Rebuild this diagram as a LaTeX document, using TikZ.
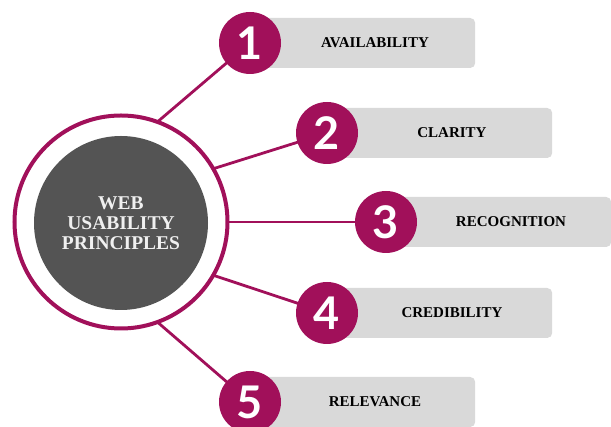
\documentclass[tikz,border=0pt]{standalone}
\usepackage{fontspec}
\setmainfont{Liberation Serif}
\newfontfamily\numfont{Lato}
\usepackage{xcolor}
\usepackage{tikz}
\definecolor{usabred}{HTML}{A1105A}
\definecolor{boxgray}{HTML}{D9D9D9}
\definecolor{darkdisc}{HTML}{545454}
\definecolor{hubtext}{HTML}{F0F0F0}

\begin{document}
\begin{tikzpicture}
        [
            x = 1pt, y = 1pt,
            numdisc/.style = {circle, fill = usabred, minimum size = 62pt, inner sep = 0pt, text = white,
                font = \numfont\bfseries\fontsize{45}{45}\selectfont},
            topicbox/.style = {fill = boxgray, rounded corners = 5pt, minimum width = 225pt,
                minimum height = 50pt, inner sep = 0pt, anchor = west},
            topictext/.style = {font = \bfseries\fontsize{15}{16}\selectfont},
            spoke/.style = {draw = usabred, line width = 2.8pt}]
        \useasboundingbox (0,0) rectangle (611,427);
        \node[circle, draw = usabred, line width = 4pt, fill = white, minimum size = 213pt,
            inner sep = 0pt, outer sep = 0pt] (ring) at (121,205) {};
        \node[circle, fill = darkdisc, minimum size = 174pt, inner sep = 0pt, align = center,
            text = hubtext, font = \bfseries\fontsize{19.5}{20}\selectfont] (hub) at (121,204)
            {WEB\\USABILITY\\PRINCIPLES};
        \foreach \n/\x/\y/\ang/\txt in {1/250/384/70/AVAILABILITY, 2/327/294/30/CLARITY,
                3/386/205/0/RECOGNITION, 4/327/114/-30/CREDIBILITY, 5/250/25/-70/RELEVANCE}
        {
            \coordinate (pos\n) at (\x,\y);
            \draw[spoke] (ring.\ang) -- (pos\n);
            \node[topicbox] (box\n) at (pos\n) {};
            \node[numdisc] (num\n) at (pos\n) {\n};
            \node[topictext] (label\n) at (\x+125,\y) {\txt};
        }
    \end{tikzpicture}
\end{document}
